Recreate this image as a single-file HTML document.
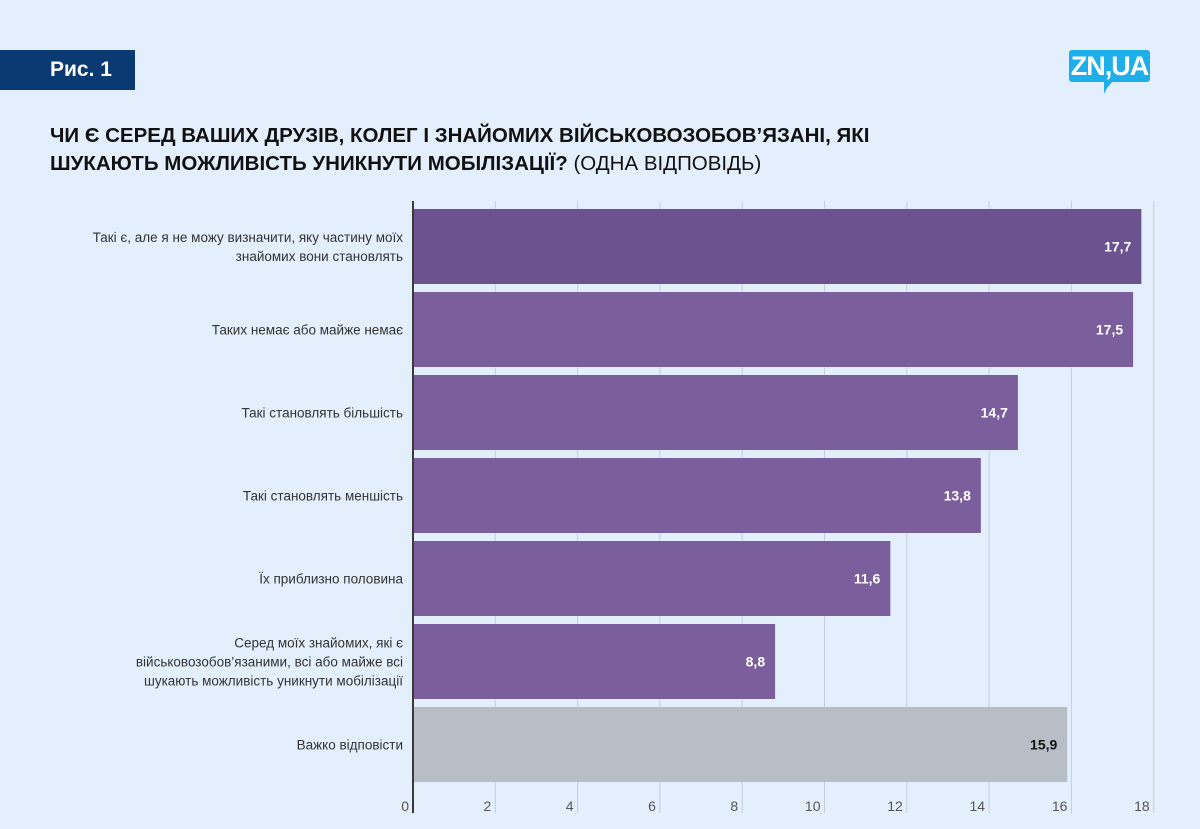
<!DOCTYPE html>
<html><head><meta charset="utf-8"><style>
body{margin:0;background:#e3effd;}
#root{position:relative;width:1200px;height:829px;background:#e3effd;font-family:"Liberation Sans",sans-serif;overflow:hidden}
.fig{position:absolute;left:0;top:50px;width:135px;height:40px;background:#0b3a73;color:#fff;font-weight:bold;font-size:21px;line-height:40px;text-indent:50px}
.logo{position:absolute;left:1069px;top:50px;width:81px;height:32px;background:#1eaee9;border-radius:3px;color:#fff;font-weight:bold;font-size:27px;line-height:33px;text-align:center;letter-spacing:-1px}
.logo:after{content:"";position:absolute;left:35px;top:31px;border:6px solid transparent;border-top:7px solid #1eaee9;border-left:3px solid #1eaee9;}
.title{position:absolute;left:50px;top:122px;font-size:20.5px;line-height:28px;color:#111;font-weight:bold}
.title span{font-weight:normal}
</style></head><body>
<div id="root">
<div class="fig">Рис. 1</div>
<div class="logo">ZN,UA</div>
<div class="title">ЧИ Є СЕРЕД ВАШИХ ДРУЗІВ, КОЛЕГ І ЗНАЙОМИХ ВІЙСЬКОВОЗОБОВ’ЯЗАНІ, ЯКІ<br>ШУКАЮТЬ МОЖЛИВІСТЬ УНИКНУТИ МОБІЛІЗАЦІЇ? <span>(ОДНА ВІДПОВІДЬ)</span></div>
<svg id="chart" width="1200" height="829" style="position:absolute;left:0;top:0"></svg>
</div>
<script>
const categories=[["Такі є, але я не можу визначити, яку частину моїх","знайомих вони становлять"],["Таких немає або майже немає"],["Такі становлять більшість"],["Такі становлять меншість"],["Їх приблизно половина"],["Серед моїх знайомих, які є","військовозобов’язаними, всі або майже всі","шукають можливість уникнути мобілізації"],["Важко відповісти"]];
const values=[17.7,17.5,14.7,13.8,11.6,8.8,15.9];
const valueLabels=["17,7","17,5","14,7","13,8","11,6","8,8","15,9"];
const ticks=[0,2,4,6,8,10,12,14,16,18];
const NS="http://www.w3.org/2000/svg";
const svg=document.getElementById('chart');
const x0=413,unit=41.15,top0=209,pitch=83,bh=75;
const x=v=>x0+v*unit;
const yb=i=>top0+i*pitch;
function mk(t,a){const e=document.createElementNS(NS,t);for(const k in a)e.setAttribute(k,a[k]);svg.appendChild(e);return e;}
ticks.forEach((t,i)=>{
 if(t>0){const g=mk('line',{x1:x(t),x2:x(t),y1:201,y2:813,stroke:'#c5ced9','stroke-width':1});
 
 }
 const tx=mk('text',{x:x(t)-4,y:811,'text-anchor':'end','font-size':14,fill:'#555','font-family':'Liberation Sans, sans-serif'});
 tx.textContent=t;
 
 
});
values.forEach((v,i)=>{
 const gray=i===values.length-1;
 const fill=i===0?'#6c528f':(gray?'#b8bec6':'#7b5f9c');
 const r=mk('rect',{x:x0,y:yb(i),width:x(v)-x0,height:bh,fill:fill});
 
 
 const vl=mk('text',{x:x(v)-10,y:yb(i)+bh/2+5,'text-anchor':'end','font-size':14,'font-weight':'bold',fill:gray?'#111':'#fff','font-family':'Liberation Sans, sans-serif'});
 vl.textContent=valueLabels[i];
 
 
 const lines=categories[i];
 const cy=yb(i)+bh/2;
 lines.forEach((ln,j)=>{
  const t=mk('text',{x:403,y:cy+5+(j-(lines.length-1)/2)*19,'text-anchor':'end','font-size':13.5,fill:'#333','font-family':'Liberation Sans, sans-serif'});
  t.textContent=ln;
  
  
 });
});
const ax=mk('line',{x1:x0,x2:x0,y1:201,y2:813,stroke:'#3a3a3a','stroke-width':2});


</script>
</body></html>
